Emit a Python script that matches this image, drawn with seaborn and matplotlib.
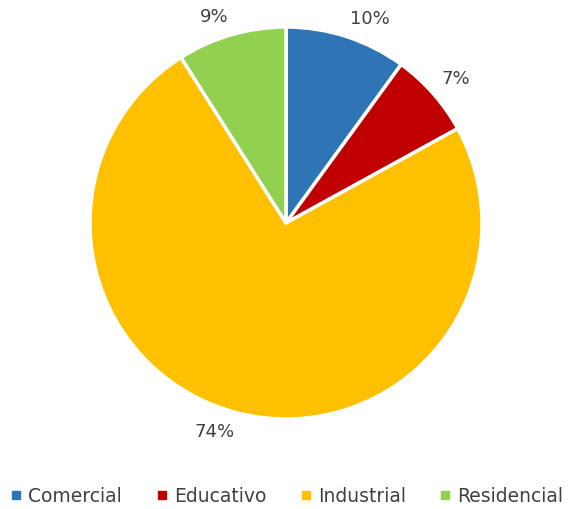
import matplotlib
matplotlib.use("Agg")
import matplotlib.pyplot as plt
import seaborn as sns
import numpy as np
from matplotlib.lines import Line2D

sns.set_theme(style="white")
plt.rcParams['font.family'] = ['DejaVu Sans']

categories = ["Comercial", "Educativo", "Industrial", "Residencial"]
values = [10, 7, 74, 9]
colors = ["#2E75B6", "#C00000", "#FFC000", "#92D050"]

W, H = 573, 510
fig = plt.figure(figsize=(W / 100, H / 100), dpi=100)
cx, cy, R = 286, 224, 196
ax = fig.add_axes([(cx - R) / W, (H - cy - R) / H, 2 * R / W, 2 * R / H])

wedges, texts = ax.pie(
    values, colors=colors, startangle=90, counterclock=False, radius=1,
    wedgeprops=dict(edgecolor="white", linewidth=2.5),
)
total = sum(values)
for w, v in zip(wedges, values):
    ang = np.deg2rad((w.theta1 + w.theta2) / 2)
    c, s = np.cos(ang), np.sin(ang)
    ax.text(1.06 * c, 1.05 * s, f"{100 * v / total:.0f}%",
            ha="left" if c > 0 else "right", va="bottom" if s > 0 else "top",
            color="#404040", fontsize=13)
ax.set_xlim(-1, 1)
ax.set_ylim(-1, 1)
ax.set_aspect("equal")
ax.axis("off")

handles = [Line2D([0], [0], marker="s", linestyle="", markersize=6,
                  markerfacecolor=c, markeredgecolor=c) for c in colors]
fig.legend(handles, categories, loc="center", bbox_to_anchor=(0.5, 1 - 497 / H),
           ncol=4, frameon=False, fontsize=13.5, handlelength=0.7, handletextpad=0.3,
           columnspacing=1.75, labelcolor="#404040")

fig.savefig("out.png", dpi=100)
